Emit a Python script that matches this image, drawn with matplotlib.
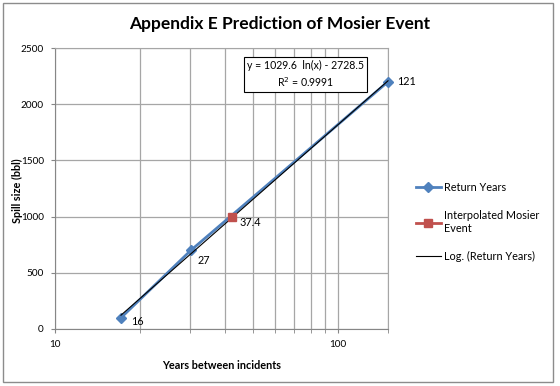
import numpy as np
import matplotlib
matplotlib.use("Agg")
import matplotlib.pyplot as plt
from matplotlib.ticker import FixedLocator, NullFormatter

# data (x positions as plotted, labels as shown)
return_years = [17.1, 30.2, 150]
return_spill = [100, 700, 2200]
return_labels = ["16", "27", "121"]
mosier_years = [42.3]
mosier_spill = [1000]
mosier_labels = ["37.4"]
y_ticks = [0, 500, 1000, 1500, 2000, 2500]
x_major = [10, 100]
x_minor = [20, 30, 40, 50, 60, 70, 80, 90, 150]

plt.rcParams["font.family"] = ["Lato", "DejaVu Sans"]

BLUE = "#4F81BD"
RED = "#C0504D"
GRID = "#A6A6A6"
FS = 7.8

fig = plt.figure(figsize=(5.6, 3.86), dpi=100)
# outer chart border
fig.patches.append(plt.Rectangle((3 / 560, 4 / 386), 550 / 560, 379 / 386,
                                 transform=fig.transFigure, fill=False,
                                 edgecolor="#8C8C8C", linewidth=1))
ax = fig.add_axes([55 / 560, 1 - 329 / 386, 333 / 560, 281 / 386])

ax.set_xscale("log")
ax.set_xlim(10, 150)
ax.set_ylim(0, 2500)
ax.xaxis.set_major_locator(FixedLocator(x_major))
ax.xaxis.set_minor_locator(FixedLocator(x_minor))
ax.xaxis.set_minor_formatter(NullFormatter())
ax.set_xticklabels([str(v) for v in x_major])
ax.set_yticks(y_ticks)
ax.grid(True, which="both", color=GRID, linewidth=0.9)
ax.set_axisbelow(True)
for s in ["top", "right"]:
    ax.spines[s].set_color(GRID)
ax.spines["left"].set_color("#868686")
ax.spines["bottom"].set_color("#868686")
ax.tick_params(which="both", length=3, color="#868686", labelsize=7.2, pad=5)

# log trendline fitted through the return-year points
coef = np.polyfit(np.log(return_years), return_spill, 1)
xs = np.linspace(return_years[0], return_years[-1], 100)

ax.plot(return_years, return_spill, color=BLUE, linewidth=2, marker="D",
        markersize=5, label="Return Years", zorder=3, clip_on=False)
ax.plot(mosier_years, mosier_spill, color=RED, linewidth=2, marker="s",
        markersize=6, label="Interpolated Mosier\nEvent", zorder=4)
ax.plot(xs, np.polyval(coef, np.log(xs)), color="black", linewidth=0.8,
        label="Log. (Return Years)", zorder=3, clip_on=False)

offsets = {"16": (10, -4), "27": (7, -10), "37.4": (7, -6), "121": (9, 0)}
for x, y, lab in zip(return_years + mosier_years, return_spill + mosier_spill,
                     return_labels + mosier_labels):
    ax.annotate(lab, (x, y), xytext=offsets[lab], textcoords="offset pixels",
                fontsize=FS, va="center", ha="left")

ax.text(0.753, 0.906, "y = 1029.6  ln(x) - 2728.5\nR$^2$ = 0.9991",
        transform=ax.transAxes, ha="center", va="center", fontsize=7.6,
        linespacing=1.3,
        bbox=dict(boxstyle="square,pad=0.3", facecolor="white",
                  edgecolor="black", linewidth=0.8))

fig.text(0.5, 1 - 24 / 386, "Appendix E Prediction of Mosier Event",
         ha="center", va="center", fontsize=12.5, fontweight="bold")
ax.set_xlabel("Years between incidents", fontsize=FS, fontweight="bold",
              labelpad=8)
fig.text(17 / 560, 1 - 191 / 386, "Spill size (bbl)", rotation=90,
         ha="center", va="center", fontsize=FS, fontweight="bold")

fig.legend(loc="center left", bbox_to_anchor=(406 / 560, 1 - 222 / 386),
           frameon=False, fontsize=FS, handlelength=2.3, labelspacing=1.6,
           handletextpad=0.3)

fig.savefig("out.png", dpi=100)
